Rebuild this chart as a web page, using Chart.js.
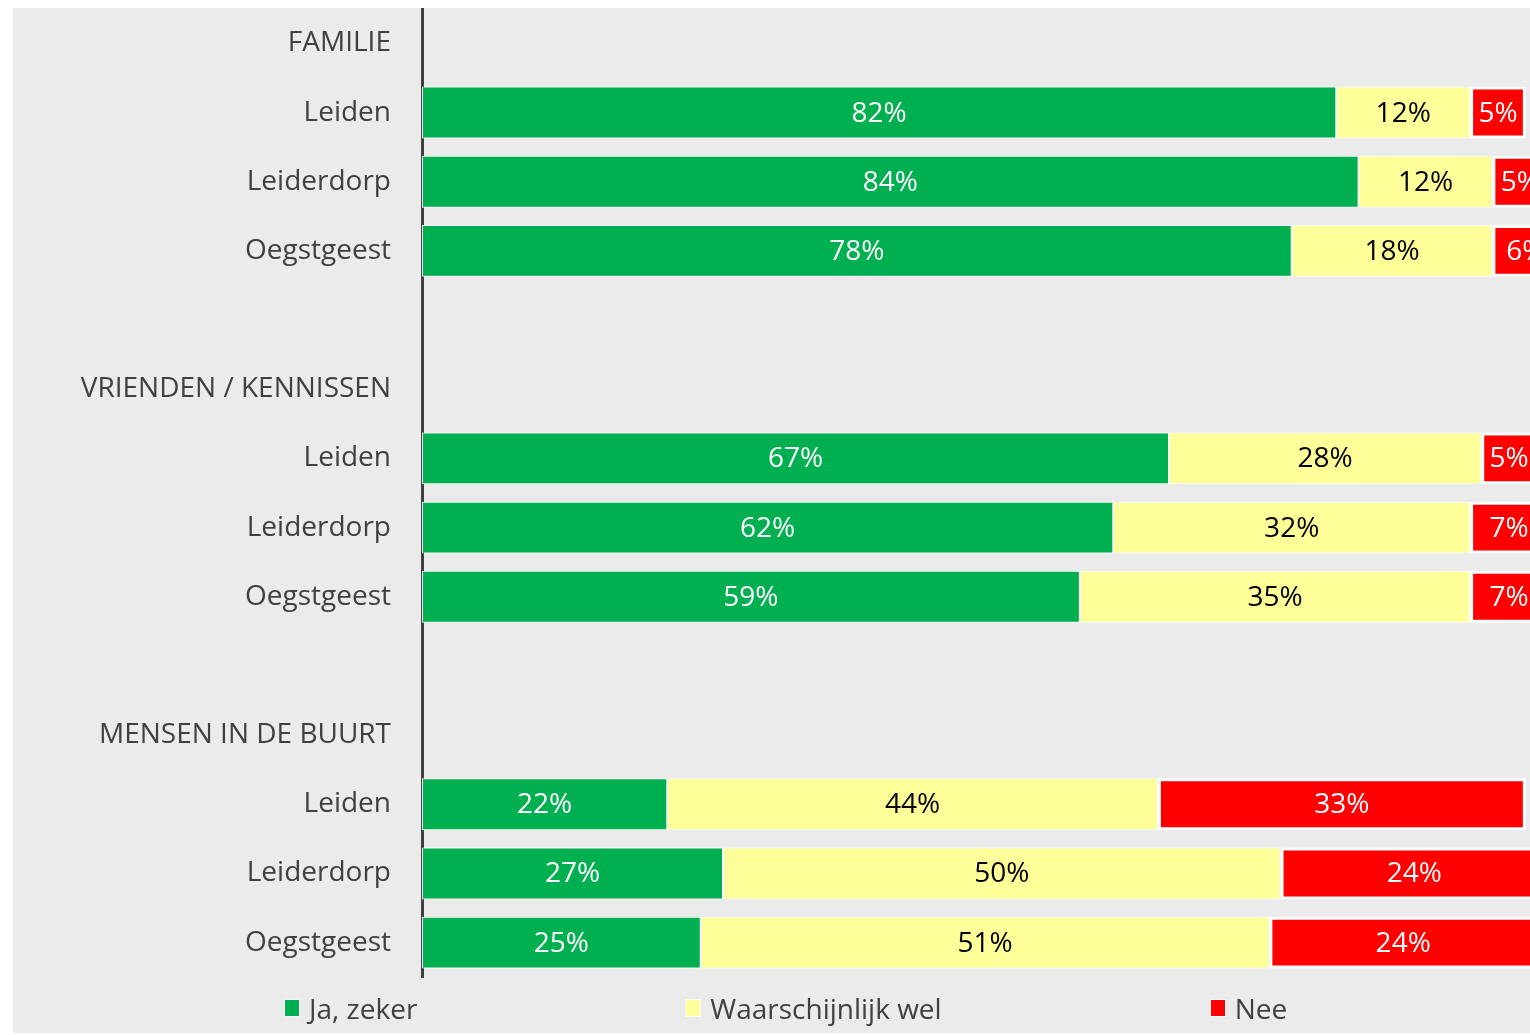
<!DOCTYPE html>
<html>
<head>
<meta charset="utf-8">
<script src="https://cdn.jsdelivr.net/npm/chart.js@4/dist/chart.umd.min.js"></script>
<style>
  body { margin: 0; overflow: hidden; background: #fff; width: 1530px; height: 1035px; }
  #panel { position: absolute; left: 13px; top: 8px; width: 1530px; height: 1025px; background: #ebebeb; overflow: hidden; }
  #box { position: absolute; left: 0; top: -47px; width: 1524px; height: 1064px; }
  #legend { position: absolute; left: 271px; top: 981px; display: flex; gap: 268px;
            font-family: "Open Sans", sans-serif; font-size: 28px; color: #404040; }
  .item { display: flex; align-items: center; }
  .swatch { width: 14px; height: 16px; border: 1px solid #fff; margin-right: 9px; }
</style>
</head>
<body>
<div id="panel">
  <div id="box"><canvas id="chart"></canvas></div>
  <div id="legend"></div>
</div>
<script>
// Categories (rows) and series
const rows = ['FAMILIE', 'Leiden', 'Leiderdorp', 'Oegstgeest', '',
  'VRIENDEN / KENNISSEN', 'Leiden', 'Leiderdorp', 'Oegstgeest', '',
  'MENSEN IN DE BUURT', 'Leiden', 'Leiderdorp', 'Oegstgeest'];

const jaZeker = [null, 82, 84, 78, null, null, 67, 62, 59, null, null, 22, 27, 25];
const waarschijnlijkWel = [null, 12, 12, 18, null, null, 28, 32, 35, null, null, 44, 50, 51];
const nee = [null, 5, 5, 6, null, null, 5, 7, 7, null, null, 33, 24, 24];

const seriesNames = ['Ja, zeker', 'Waarschijnlijk wel', 'Nee'];
const seriesColors = ['#00b050', '#ffff99', '#ff0000'];
const labelColors = ['#ffffff', '#000000', '#ffffff'];

const font = '"Open Sans", sans-serif';

// Draw the percentage in the middle of every segment
const segmentLabels = {
  id: 'segmentLabels',
  afterDatasetsDraw(chart) {
    const ctx = chart.ctx;
    ctx.save();
    ctx.font = '28px ' + font;
    ctx.textAlign = 'center';
    ctx.textBaseline = 'middle';
    chart.data.datasets.forEach((ds, i) => {
      const meta = chart.getDatasetMeta(i);
      meta.data.forEach((bar, j) => {
        const v = ds.data[j];
        if (v === null) return;
        const p = bar.getProps(['x', 'y', 'base'], true);
        ctx.fillStyle = labelColors[i];
        ctx.fillText(v + '%', (p.x + p.base) / 2, p.y + 1);
      });
    });
    ctx.restore();
  }
};

const ctx = document.getElementById('chart').getContext('2d');
const chart = new Chart(ctx, {
  type: 'bar',
  data: {
    labels: rows,
    datasets: [
      { label: seriesNames[0], data: jaZeker, backgroundColor: seriesColors[0], borderColor: '#fff', borderWidth: 1 },
      { label: seriesNames[1], data: waarschijnlijkWel, backgroundColor: seriesColors[1], borderColor: '#fff', borderWidth: 1 },
      { label: seriesNames[2], data: nee, backgroundColor: seriesColors[2], borderColor: '#fff', borderWidth: 3 }
    ]
  },
  options: {
    indexAxis: 'y',
    responsive: true,
    maintainAspectRatio: false,
    animation: false,
    layout: { padding: 0 },
    datasets: { bar: { barPercentage: 0.75, categoryPercentage: 1, borderSkipped: false } },
    plugins: {
      legend: { display: false },
      tooltip: { enabled: false }
    },
    scales: {
      x: { stacked: true, display: false, min: 0, max: 100 },
      y: {
        stacked: true,
        grid: { display: false, drawTicks: false },
        border: { display: true, color: '#404040', width: 3 },
        ticks: { color: '#404040', font: { family: font, size: 28 }, padding: 31, autoSkip: false },
        afterFit(scale) { scale.width = 409; }
      }
    }
  },
  plugins: [segmentLabels]
});

// Legend built from the same series arrays
const legend = document.getElementById('legend');
seriesNames.forEach((name, i) => {
  const item = document.createElement('div');
  item.className = 'item';
  item.innerHTML = `<span class="swatch" style="background:${seriesColors[i]}"></span><span>${name}</span>`;
  legend.appendChild(item);
});
</script>
</body>
</html>
